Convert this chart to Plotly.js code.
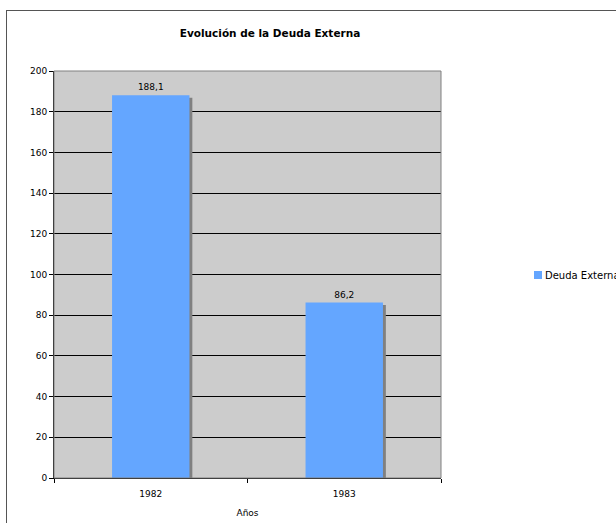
<!DOCTYPE html>
<html>
<head>
<meta charset="utf-8">
<script src="https://cdn.plot.ly/plotly-3.0.1.min.js"></script>
<style>
  html, body { margin: 0; padding: 0; background: #ffffff; }
  #wrap { position: relative; width: 616px; height: 523px; overflow: hidden; }
  #chart { width: 616px; height: 523px; }
  #frame {
    position: absolute; left: 6px; top: 10px; width: 700px; height: 600px;
    border-left: 1px solid #555555; border-top: 1px solid #555555;
    pointer-events: none;
  }
</style>
</head>
<body>
<div id="wrap">
  <div id="chart"></div>
  <div id="frame"></div>
</div>
<script>
// External debt by year
const years = ['1982', '1983'];
const deuda = [188.1, 86.2];
const seriesName = 'Deuda Externa';
const chartTitle = 'Evolución de la Deuda Externa';
const xTitle = 'Años';

const FONT = 'DejaVu Sans, Verdana, sans-serif';
const BLUE = '#64a6ff';

// drop shadow sits slightly right of and below each bar
const shadowDrop = 1.2;
const shadow = {
  type: 'bar', x: years, y: deuda.map(v => v - shadowDrop),
  width: 0.4, offset: -0.185,
  marker: { color: '#808080' },
  showlegend: false, hoverinfo: 'skip'
};

const bars = {
  type: 'bar', x: years, y: deuda, name: seriesName,
  width: 0.4, offset: -0.2,
  marker: { color: BLUE },
  text: deuda, texttemplate: '%{y:.1f}', textposition: 'outside',
  textfont: { family: FONT, size: 9, color: '#000000' },
  cliponaxis: false,
  showlegend: false
};

// legend entry with a small square key
const legendKey = {
  type: 'scatter', mode: 'markers', x: [null], y: [null], name: seriesName,
  marker: { symbol: 'square', size: 8, color: BLUE },
  showlegend: true
};

const layout = {
  width: 616, height: 523,
  margin: { l: 54, r: 175, t: 71, b: 45 },
  paper_bgcolor: '#ffffff',
  plot_bgcolor: '#cccccc',
  separators: ',.',
  barmode: 'overlay',
  font: { family: FONT, size: 9, color: '#000000' },
  title: {
    text: '<b>' + chartTitle + '</b>',
    font: { family: FONT, size: 10.5, color: '#000000' },
    x: 270 / 616, xref: 'container', xanchor: 'center',
    y: 1 - 33 / 523, yref: 'container', yanchor: 'middle'
  },
  xaxis: {
    type: 'category',
    tickson: 'boundaries',
    ticks: 'outside', ticklen: 4, tickcolor: '#000000',
    ticklabelstandoff: 7,
    showline: true, linecolor: '#000000', linewidth: 1,
    showgrid: false, zeroline: false,
    tickfont: { family: FONT, size: 9, color: '#000000' },
    title: { text: xTitle, font: { family: FONT, size: 9, color: '#000000' }, standoff: 11 },
    fixedrange: true
  },
  yaxis: {
    range: [0, 200], dtick: 20,
    ticks: 'outside', ticklen: 4, tickcolor: '#000000',
    showline: true, linecolor: '#000000', linewidth: 1,
    showgrid: true, gridcolor: '#000000', gridwidth: 1,
    zeroline: false,
    tickfont: { family: FONT, size: 9, color: '#000000' },
    fixedrange: true
  },
  shapes: [
    { type: 'rect', xref: 'paper', yref: 'paper', x0: 0, x1: 1, y0: 0, y1: 1,
      line: { color: '#808080', width: 1 }, layer: 'above' }
  ],
  showlegend: true,
  legend: {
    xref: 'container', yref: 'container',
    x: 518 / 616, xanchor: 'left',
    y: 1 - 275 / 523, yanchor: 'middle',
    bgcolor: 'rgba(0,0,0,0)',
    font: { family: FONT, size: 10, color: '#000000' }
  }
};

Plotly.newPlot('chart', [shadow, bars, legendKey], layout, { displayModeBar: false, staticPlot: true })
  .then(gd => {
    // pull the legend label in close to its key
    gd.querySelectorAll('.legend .legendtext').forEach(t => {
      t.setAttribute('x', parseFloat(t.getAttribute('x')) - 13);
    });
  });
</script>
</body>
</html>
